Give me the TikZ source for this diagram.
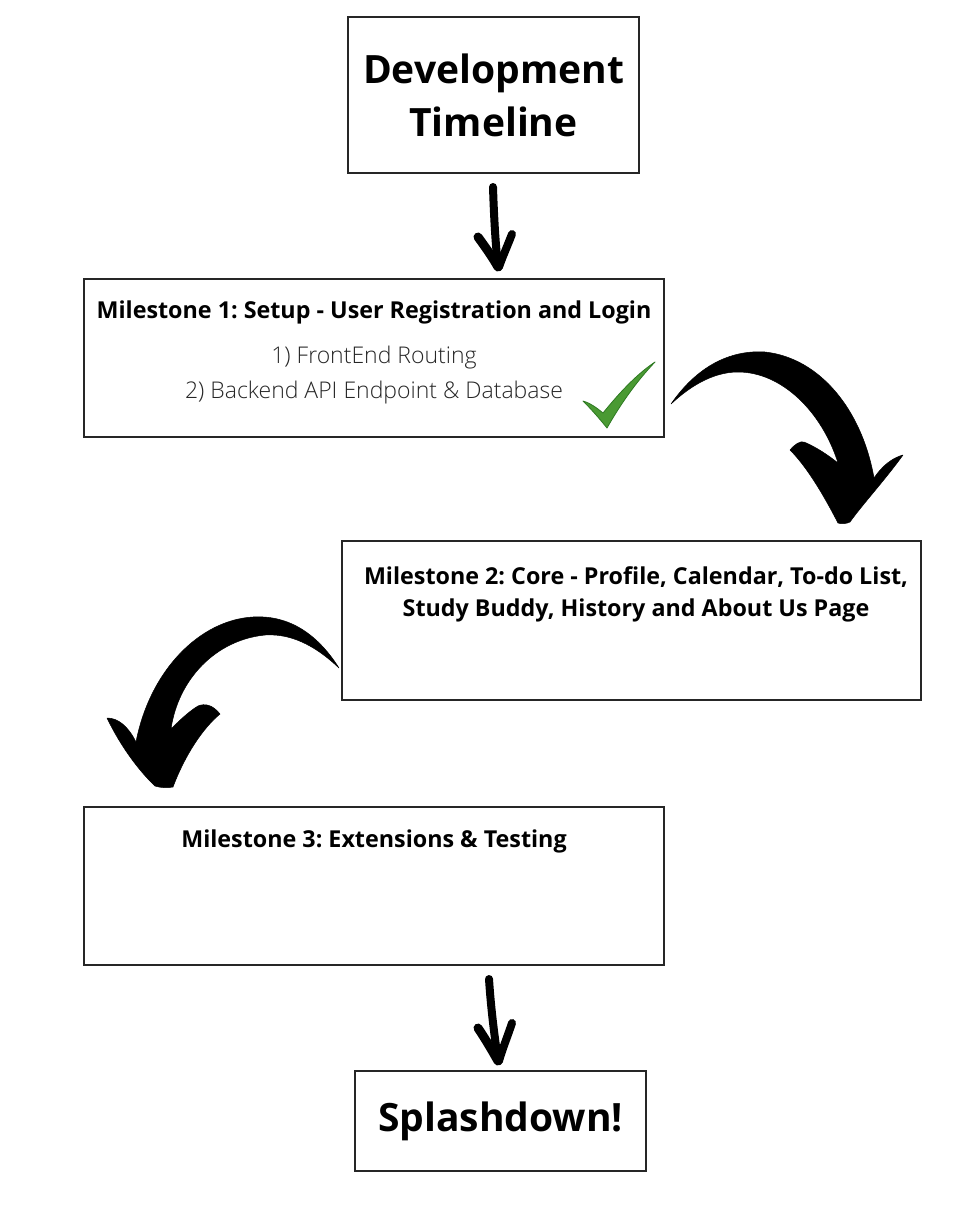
\documentclass[tikz,border=0pt]{standalone}
\usepackage{fontspec}
\setmainfont{Open Sans}
\IfFontExistsTF{Open Sans Light}{\newfontfamily\lightfont{Open Sans Light}}{\newfontfamily\lightfont{Open Sans}}
\definecolor{chkgreen}{HTML}{4A9A33}
\definecolor{chkdark}{HTML}{2E7A22}
\frenchspacing
\tikzset{
  boxnode/.style={draw=black!85, line width=2pt, inner sep=0pt, fill=white},
  bigtext/.style={font=\fontsize{39}{53}\selectfont\bfseries, align=center, inner sep=0pt},
  mtitle/.style={font=\fontsize{23.3}{32}\selectfont\bfseries, align=center, inner sep=0pt},
  ltext/.style={font=\fontsize{23}{35}\selectfont\lightfont, align=center, inner sep=0pt, text=black!85},
  brush/.style={line width=8pt, line cap=round, black},
  bigarrow/.style={fill=black, draw=black, line width=0.5pt, line join=round}
}
\begin{document}
\begin{tikzpicture}[x=1pt,y=-1pt]
\useasboundingbox (0,0) rectangle (978,1210);
\fill[white] (0,0) rectangle (978,1210);

% boxes
\node[boxnode, minimum width=291pt, minimum height=156pt] (title) at (493.5,95) {};
\node[bigtext] (titletxt) at (title.center) {Development\\Timeline};

\node[boxnode, minimum width=580pt, minimum height=158pt] (m1) at (374,358) {};
\node[mtitle] (m1t) at (374,312) {Milestone 1: Setup - User Registration and Login};
\node[ltext] (m1l) at (374,375) {1) FrontEnd Routing\\2) Backend API Endpoint \& Database};

\node[boxnode, minimum width=579pt, minimum height=159pt] (m2) at (631.5,620.5) {};
\node[mtitle] (m2t) at (636,594) {Milestone 2: Core - Profile, Calendar, To-do List,\\Study Buddy, History and About Us Page};

\node[boxnode, minimum width=580pt, minimum height=158pt] (m3) at (374,886) {};
\node[mtitle] (m3t) at (374,841) {Milestone 3: Extensions \& Testing};

\node[boxnode, minimum width=291pt, minimum height=100pt] (splash) at (500.5,1121) {};
\node[bigtext] (splasht) at (splash.center) {Splashdown!};

% check mark
\filldraw[fill=chkgreen, draw=chkdark, line width=0.8pt, line join=round]
  (583,401) .. controls (590,403) and (597,408) .. (603,413)
  .. controls (620,392) and (637,374) .. (655,362)
  .. controls (636,382) and (620,405) .. (607,428)
  .. controls (599,418) and (591,409) .. (583,401) -- cycle;

% down arrow 1
\draw[brush] (493,187) .. controls (494,220) and (496,250) .. (498,266);
\draw[brush, line width=9pt] (478,237) .. controls (486,248) and (493,258) .. (498,267);
\draw[brush, line width=8pt] (512,234) .. controls (507,247) and (502,258) .. (499,267);

% down arrow 2
\draw[brush] (489,979) .. controls (491,1010) and (495,1040) .. (498,1060);
\draw[brush, line width=9pt] (478,1028) .. controls (486,1040) and (493,1052) .. (498,1061);
\draw[brush, line width=8pt] (512,1023) .. controls (507,1038) and (502,1050) .. (499,1061);

% big curved arrow right
\filldraw[bigarrow]
  (671,404) .. controls (700,362) and (735,350) .. (765,352)
  .. controls (820,358) and (862,410) .. (874,478)
  .. controls (882,466) and (892,458) .. (903,455)
  .. controls (885,480) and (862,505) .. (850,522)
  .. controls (846,524) and (841,524) .. (838,523)
  .. controls (822,492) and (806,466) .. (790,450)
  .. controls (795,444) and (800,441) .. (804,442)
  .. controls (816,447) and (828,455) .. (838,463)
  .. controls (822,412) and (782,372) .. (738,372)
  .. controls (710,372) and (686,390) .. (671,404) -- cycle;

% big curved arrow left
\filldraw[bigarrow]
  (339,668) .. controls (315,630) and (285,615) .. (253,617)
  .. controls (200,620) and (150,670) .. (136,742)
  .. controls (128,726) and (118,718) .. (107,718)
  .. controls (120,745) and (138,770) .. (155,786)
  .. controls (161,788) and (168,788) .. (173,787)
  .. controls (185,755) and (203,728) .. (220,714)
  .. controls (213,705) and (205,703) .. (198,706)
  .. controls (188,712) and (178,722) .. (171,729)
  .. controls (178,680) and (215,640) .. (265,635)
  .. controls (295,633) and (320,650) .. (339,668) -- cycle;
\end{tikzpicture}
\end{document}
